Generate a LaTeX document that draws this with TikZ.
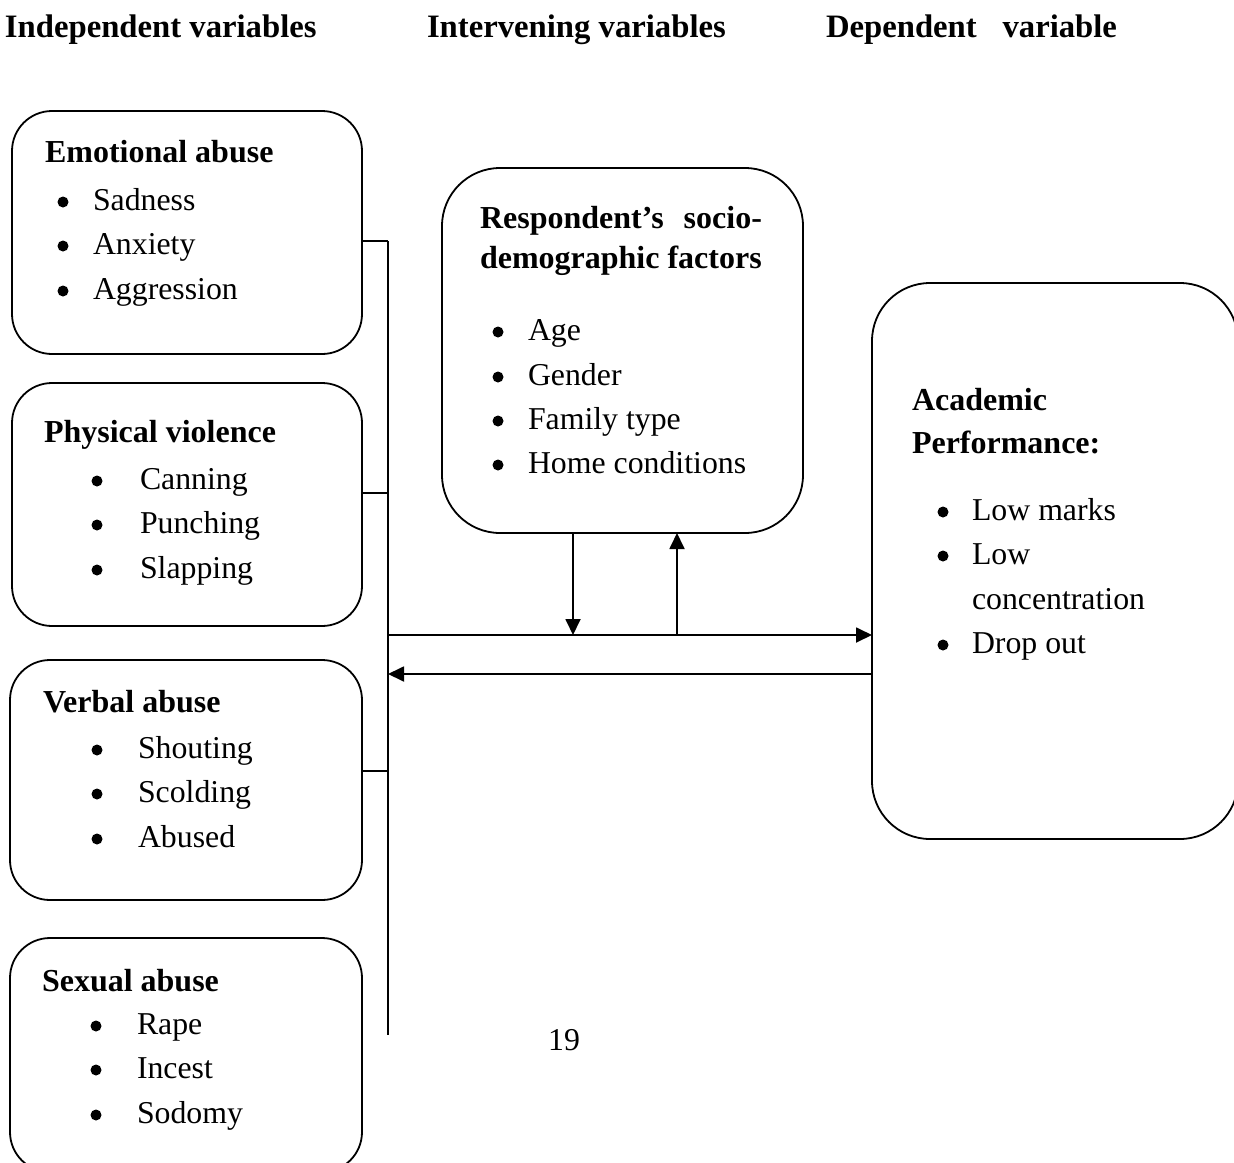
\documentclass[tikz,border=0pt]{standalone}
\usepackage{fontspec}
\setmainfont{Liberation Serif}
\usetikzlibrary{arrows.meta}
\begin{document}
\begin{tikzpicture}[x=1pt,y=-1pt,
  every node/.style={inner sep=0pt, outer sep=0pt},
  txt/.style={anchor=base west, font=\fontsize{31.8}{37}\selectfont},
  ttl/.style={anchor=base west, font=\fontsize{32}{37}\selectfont\bfseries},
  hdr/.style={anchor=base west, font=\fontsize{32.7}{37}\selectfont\bfseries},
  bul/.style={circle, fill, minimum size=11pt},
  ln/.style={line width=1.8pt},
  sbox/.style={draw, line width=1.8pt, rounded corners=40pt},
  bbox/.style={draw, line width=1.8pt, rounded corners=58pt},
  arr/.style={ln, -{Triangle[length=16pt,width=15pt]}}
]
\useasboundingbox (0,0) rectangle (1234,1162);
\clip (0,0) rectangle (1234,1162);

% headers
\node[hdr] (h1) at (5,37) {Independent variables};
\node[hdr] (h2) at (427,37) {Intervening variables};
\node[hdr] (h3) at (826,37) {\makebox[291pt][s]{Dependent variable}};

% boxes
\node[sbox, minimum width=350pt, minimum height=243pt] (emo) at (187,232.5) {};
\node[sbox, minimum width=350pt, minimum height=243pt] (phy) at (187,504.5) {};
\node[sbox, minimum width=352pt, minimum height=240pt] (verb) at (186,780) {};
\node[sbox, minimum width=352pt, minimum height=234pt] (sex) at (186,1055) {};
\node[bbox, minimum width=361pt, minimum height=365pt] (mid) at (622.5,350.5) {};
\node[bbox, minimum width=366pt, minimum height=556pt] (acad) at (1055,561) {};

% emotional abuse
\node[ttl] (et0) at (45,162) {Emotional abuse};
\foreach \t/\yy [count=\i] in {Sadness/210,Anxiety/254,Aggression/299}{
  \node[bul] (eb\i) at (63,\yy-8) {};
  \node[txt] (et\i) at (93,\yy) {\t};
}
% physical violence
\node[ttl] (pt0) at (44,442) {Physical violence};
\foreach \t/\yy [count=\i] in {Canning/489,Punching/533,Slapping/578}{
  \node[bul] (pb\i) at (97,\yy-8) {};
  \node[txt] (pt\i) at (140,\yy) {\t};
}
% verbal abuse
\node[ttl] (vt0) at (43,712) {Verbal abuse};
\foreach \t/\yy [count=\i] in {Shouting/758,Scolding/802,Abused/847}{
  \node[bul] (vb\i) at (97,\yy-8) {};
  \node[txt] (vt\i) at (138,\yy) {\t};
}
% sexual abuse
\node[ttl] (st0) at (42,991) {Sexual abuse};
\foreach \t/\yy [count=\i] in {Rape/1034,Incest/1078,Sodomy/1123}{
  \node[bul] (sb\i) at (96,\yy-8) {};
  \node[txt] (st\i) at (137,\yy) {\t};
}
% middle
\node[ttl] (mt1) at (480,228) {\makebox[282pt][s]{Respondent’s socio-}};
\node[ttl] (mt2) at (480,268) {demographic factors};
\foreach \t/\yy [count=\i] in {Age/340,Gender/385,Family type/429,Home conditions/473}{
  \node[bul] (mb\i) at (498,\yy-8) {};
  \node[txt] (mi\i) at (528,\yy) {\t};
}
% academic performance
\node[ttl] (at1) at (912,410) {Academic};
\node[ttl] (at2) at (912,453) {Performance:};
\node[bul] (ab1) at (943,512) {};
\node[txt] (ai1) at (972,520) {Low marks};
\node[bul] (ab2) at (943,556) {};
\node[txt] (ai2) at (972,564) {Low};
\node[txt] (ai3) at (972,609) {concentration};
\node[bul] (ab3) at (943,645) {};
\node[txt] (ai4) at (972,653) {Drop out};

% page number
\node[anchor=base, font=\fontsize{31.8}{37}\selectfont] (pg) at (564,1050) {19};

% bus
\coordinate (bt) at (388,241);
\coordinate (bb) at (388,1035);
\coordinate (j2) at (388,493);
\coordinate (j3) at (388,771);
\coordinate (ha) at (388,635);
\coordinate (hb) at (388,674);
\coordinate (dA) at (573,635);
\coordinate (uA) at (677,635);
\draw[ln] (bt) -- (bb);
\draw[ln] (bt -| emo.east) -- (bt);
\draw[ln] (j2 -| phy.east) -- (j2);
\draw[ln] (j3 -| verb.east) -- (j3);

% arrows
\draw[arr] (ha) -- (ha -| acad.west);
\draw[arr] (hb -| acad.west) -- (hb);
\draw[arr] (dA |- mid.south) -- (dA);
\draw[arr] (uA) -- (uA |- mid.south);
\end{tikzpicture}
\end{document}
